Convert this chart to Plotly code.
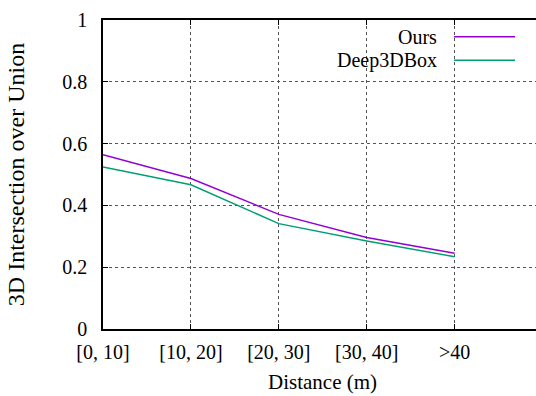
import plotly.graph_objects as go

categories = ["[0, 10]", "[10, 20]", "[20, 30]", "[30, 40]", "&gt;40"]
x_pos = [0, 1, 2, 3, 4]
ours = [0.564, 0.487, 0.371, 0.296, 0.245]
deep3dbox = [0.524, 0.467, 0.341, 0.285, 0.234]
y_ticks = [0, 0.2, 0.4, 0.6, 0.8, 1]
y_ticklabels = ["0", "0.2", "0.4", "0.6", "0.8", "1"]

FONT = "Liberation Serif, serif"
C_OURS = "#9400d3"
C_DEEP = "#009e73"

fig = go.Figure()
fig.add_trace(go.Scatter(x=x_pos, y=ours, mode="lines", name="Ours",
                         line=dict(color=C_OURS, width=1.5), showlegend=False))
fig.add_trace(go.Scatter(x=x_pos, y=deep3dbox, mode="lines", name="Deep3DBox",
                         line=dict(color=C_DEEP, width=1.5), showlegend=False))

W, H = 536, 396
L, R, T, B = 103, 0, 20, 67
pw = W - L - R
ph = H - T - B
spacing = 87.9

fig.update_layout(
    width=W, height=H,
    margin=dict(l=L, r=R, t=T, b=B, pad=0),
    paper_bgcolor="white", plot_bgcolor="white",
    font=dict(family=FONT, size=20, color="black"),
    xaxis=dict(range=[0, pw / spacing], tickmode="array", tickvals=x_pos,
               ticktext=categories, showline=True, linecolor="black", linewidth=1.5,
               mirror="ticks", ticks="inside", ticklen=5, tickcolor="black",
               showgrid=True, gridcolor="#555", griddash="dot", gridwidth=1,
               zeroline=False, ticklabelstandoff=4),
    yaxis=dict(range=[0, 1], tickmode="array", tickvals=y_ticks,
               ticktext=y_ticklabels, showline=True, linecolor="black", linewidth=1.5,
               mirror=False, ticks="inside", ticklen=5, tickcolor="black",
               showgrid=True, gridcolor="#555", griddash="dot", gridwidth=1,
               zeroline=False, ticklabelstandoff=10,
               title=dict(text="3D Intersection over Union", standoff=31)),
)

# x-axis title centred on the full category span
fig.add_annotation(x=2.5, xref="x", y=0, yref="paper", yshift=-53,
                   text="Distance (m)", showarrow=False, yanchor="middle",
                   font=dict(family=FONT, size=21))

# legend (text left of the line sample, gnuplot style)
legend_items = [("Ours", C_OURS, 36.7), ("Deep3DBox", C_DEEP, 60.3)]
for name, col, ypx in legend_items:
    yp = (H - B - ypx) / ph
    fig.add_annotation(x=(439 - L) / pw, xref="paper", y=yp, yref="paper",
                       text=name, showarrow=False, xanchor="right", yanchor="middle",
                       font=dict(family=FONT, size=20))
    fig.add_shape(type="line", xref="paper", yref="paper",
                  x0=(454 - L) / pw, x1=(515 - L) / pw, y0=yp, y1=yp,
                  line=dict(color=col, width=1.5))

fig.write_html("out.html")
